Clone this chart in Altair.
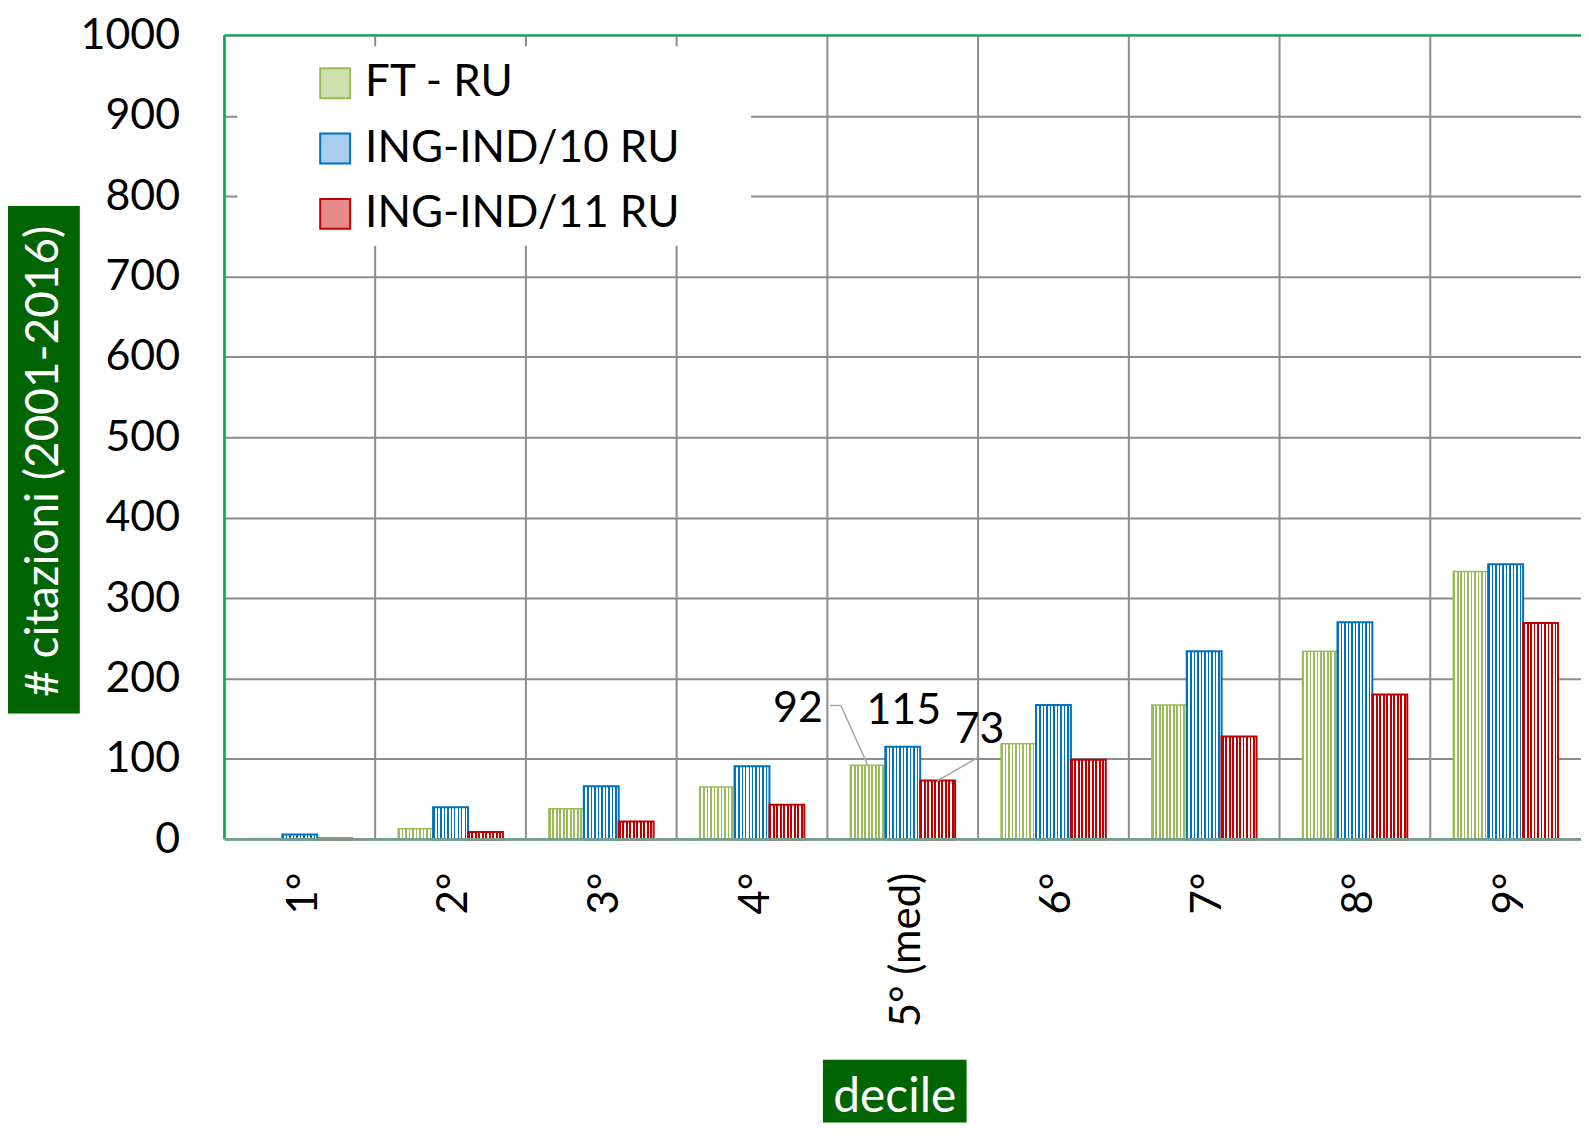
import altair as alt
import pandas as pd

# ---- data ----
deciles = ["1°", "2°", "3°", "4°", "5° (med)", "6°", "7°", "8°", "9°"]
series_names = ["FT - RU", "ING-IND/10 RU", "ING-IND/11 RU"]
ft_ru = [1, 13, 38, 65, 92, 119, 167, 234, 333]
ind10_ru = [6, 40, 66, 91, 115, 167, 234, 270, 342]
ind11_ru = [1, 9, 22, 43, 73, 99, 128, 180, 269]
y_title = "# citazioni (2001-2016)"
x_title = "decile"
annot_decile = "5° (med)"

# ---- styles ----
dark = ["#9bbb59", "#0070c0", "#c00000"]
tints = ["#cfdfb0", "#a9cdec", "#e98a8a"]
stripe_frac = [0.5, 0.42, 0.55]
FONT = "Lato"
W, H = 1360, 806
GREEN_BOX = "#006400"

rows = []
for s, vals in zip(series_names, [ft_ru, ind10_ru, ind11_ru]):
    for d, v in zip(deciles, vals):
        rows.append({"decile": d, "series": s, "value": v})
df = pd.DataFrame(rows)


def stripes(color, frac, n=10):
    stops = []
    for i in range(n):
        a, b, c = i / n, (i + frac) / n, (i + 1) / n
        stops += [
            alt.GradientStop(offset=a, color=color),
            alt.GradientStop(offset=b, color=color),
            alt.GradientStop(offset=b, color="#ffffff"),
            alt.GradientStop(offset=c, color="#ffffff"),
        ]
    return alt.LinearGradient(gradient="linear", stops=stops, x1=0, x2=1, y1=0, y2=0)


x_enc = alt.X(
    "decile:N",
    sort=deciles,
    scale=alt.Scale(domain=deciles, paddingInner=0, paddingOuter=0),
    axis=alt.Axis(
        title=None, labelAngle=-90, labelAlign="right", labelBaseline="middle",
        labelFontSize=42, labelFont=FONT, labelColor="black", labelPadding=33,
        labelOffset=4, ticks=False, domain=False, grid=False,
    ),
)
xoff_enc = alt.XOffset(
    "series:N", sort=series_names,
    scale=alt.Scale(domain=series_names, paddingOuter=0.659, paddingInner=0),
)
y_enc = alt.Y(
    "value:Q",
    scale=alt.Scale(domain=[0, 1000], nice=False, zero=True),
    axis=alt.Axis(
        title=None, values=list(range(0, 1001, 100)), format="d", labelFontSize=43,
        labelFont=FONT, labelColor="black", labelPadding=45, ticks=False,
        domain=False, grid=True, gridColor="#8c8c8c", gridWidth=2,
    ),
)

base = alt.Chart(df)

# vertical grid lines at category boundaries
vgrid = base.transform_filter(alt.datum.series == series_names[0]).mark_rule(
    color="#8c8c8c", strokeWidth=2
).encode(x=alt.X("decile:N", sort=deciles, bandPosition=0), y=alt.value(0), y2=alt.value(H))

# white legend background box
legend_bg = base.transform_filter(
    (alt.datum.series == series_names[0]) & (alt.datum.decile == deciles[0])
).mark_rect(color="white").encode(
    x=alt.value(13), x2=alt.value(528), y=alt.value(11), y2=alt.value(211)
)

bar_layers = []
for i, s in enumerate(series_names):
    bar_layers.append(
        base.transform_filter(alt.datum.series == s).mark_bar(
            fill=stripes(dark[i], stripe_frac[i]), stroke=dark[i],
            strokeWidth=1.5 if i == 0 else 2,
        ).encode(x=x_enc, xOffset=xoff_enc, y=y_enc)
    )

one = base.transform_filter(
    (alt.datum.series == series_names[0]) & (alt.datum.decile == deciles[0])
)
top_line = one.mark_rule(color="#00b050", strokeWidth=2).encode(
    x=alt.value(0), x2=alt.value(W), y=alt.value(0))
left_line = one.mark_rule(color="#00b050", strokeWidth=2.5).encode(
    x=alt.value(0), y=alt.value(0), y2=alt.value(H))
bottom_line = one.mark_rule(color="#72a08c", strokeWidth=2.5).encode(
    x=alt.value(0), x2=alt.value(W), y=alt.value(H))

# annotations for the median decile
ann = base.transform_filter(alt.datum.decile == annot_decile)
label_offsets = {series_names[0]: (-70, -56), series_names[1]: (1, -36), series_names[2]: (42, -51)}
ann_texts = []
for s in series_names:
    dx, dy = label_offsets[s]
    ann_texts.append(
        ann.transform_filter(alt.datum.series == s).mark_text(
            font=FONT, fontSize=43, color="black", dx=dx, dy=dy, baseline="middle"
        ).encode(x=x_enc, xOffset=xoff_enc, y=y_enc, text=alt.Text("value:Q"))
    )

lead_col = "#a6a6a6"
ft_pt = ann.transform_filter(alt.datum.series == series_names[0])
red_pt = ann.transform_filter(alt.datum.series == series_names[2])
lead1 = ft_pt.mark_rule(color=lead_col, strokeWidth=1.5, xOffset=-35, x2Offset=-62, y2Offset=-60).encode(
    x=x_enc, x2="decile:N", y=y_enc, y2="value:Q")
lead2 = ft_pt.mark_rule(color=lead_col, strokeWidth=1.5, xOffset=-62, x2Offset=-73, yOffset=-60, y2Offset=-60).encode(
    x=x_enc, x2="decile:N", y=y_enc, y2="value:Q")
lead3 = red_pt.mark_rule(color=lead_col, strokeWidth=1.5, xOffset=35, x2Offset=75, y2Offset=-23).encode(
    x=x_enc, x2="decile:N", y=y_enc, y2="value:Q")

# axis titles in green boxes
ytitle_df = pd.DataFrame({"t": [y_title]})
xtitle_df = pd.DataFrame({"t": [x_title]})
ybox = alt.Chart(ytitle_df).mark_rect(color=GREEN_BOX).encode(
    x=alt.value(-219), x2=alt.value(-145), y=alt.value(171), y2=alt.value(680))
ytext = alt.Chart(ytitle_df).mark_text(
    font=FONT, fontSize=46, color="white", angle=270, align="center", baseline="middle"
).encode(x=alt.value(-181), y=alt.value(427), text="t:N")
xbox = alt.Chart(xtitle_df).mark_rect(color=GREEN_BOX).encode(
    x=alt.value(600), x2=alt.value(744), y=alt.value(1027), y2=alt.value(1090))
xtext = alt.Chart(xtitle_df).mark_text(
    font=FONT, fontSize=48, color="white", align="center", baseline="alphabetic"
).encode(x=alt.value(672), y=alt.value(1079), text="t:N")

# legend carrier (no visible marks)
leg = dict(title=None, orient="none", legendX=89, legendY=26,
           labelFont=FONT, labelFontSize=44, labelColor="black", labelLimit=0,
           symbolType="square", symbolSize=900, symbolStrokeWidth=2,
           labelOffset=8, rowPadding=21.5, padding=0)
legend_layer = base.transform_filter("false").mark_bar().encode(
    x=x_enc, y=y_enc,
    fill=alt.Fill("series:N", sort=series_names,
                  scale=alt.Scale(domain=series_names, range=tints),
                  legend=alt.Legend(**leg)),
    stroke=alt.Stroke("series:N", sort=series_names,
                      scale=alt.Scale(domain=series_names, range=dark),
                      legend=alt.Legend(**leg)),
)

chart = alt.layer(
    vgrid, legend_bg, *bar_layers, top_line, left_line, bottom_line,
    lead1, lead2, lead3, *ann_texts, ybox, ytext, xbox, xtext, legend_layer,
).properties(
    width=W, height=H,
    autosize=alt.AutoSizeParams(type="none"),
    padding={"left": 217, "top": 26, "right": 0, "bottom": 284},
    background="white",
).configure_view(stroke=None)

chart.save("out.html", embed_options={"renderer": "svg", "actions": False})
